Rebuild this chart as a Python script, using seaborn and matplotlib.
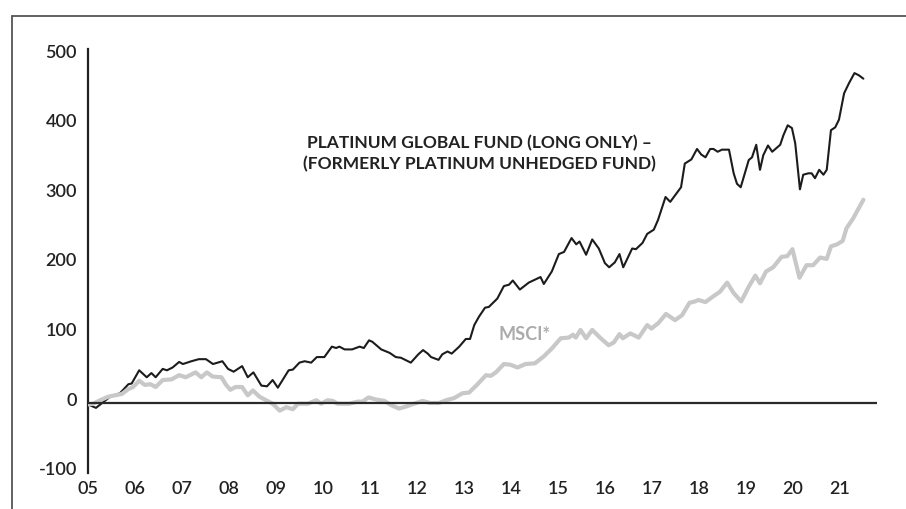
import matplotlib
matplotlib.use("Agg")
import matplotlib.pyplot as plt
import matplotlib.transforms as mtransforms
from matplotlib.lines import Line2D
import seaborn as sns
import pandas as pd

# Platinum Global Fund (long only), cumulative return %
fund_years = [2005.00, 2005.17, 2005.30, 2005.47, 2005.68, 2005.86, 2005.93, 2006.09, 2006.25, 2006.35,
              2006.44, 2006.59, 2006.68, 2006.80, 2006.94, 2007.02, 2007.20, 2007.36, 2007.51, 2007.66,
              2007.86, 2007.98, 2008.10, 2008.28, 2008.40, 2008.52, 2008.69, 2008.81, 2008.93, 2009.04,
              2009.27, 2009.36, 2009.50, 2009.61, 2009.75, 2009.87, 2010.03, 2010.19, 2010.28, 2010.35,
              2010.46, 2010.62, 2010.78, 2010.87, 2010.98, 2011.05, 2011.24, 2011.42, 2011.55, 2011.66,
              2011.87, 2012.03, 2012.13, 2012.23, 2012.30, 2012.46, 2012.54, 2012.65, 2012.74, 2012.90,
              2013.04, 2013.13, 2013.22, 2013.32, 2013.45, 2013.53, 2013.71, 2013.85, 2013.96, 2014.04,
              2014.19, 2014.38, 2014.63, 2014.70, 2014.87, 2015.02, 2015.13, 2015.29, 2015.39, 2015.46,
              2015.60, 2015.73, 2015.87, 2016.00, 2016.09, 2016.21, 2016.31, 2016.39, 2016.58, 2016.66,
              2016.80, 2016.90, 2017.04, 2017.13, 2017.29, 2017.39, 2017.62, 2017.70, 2017.84, 2017.96,
              2018.05, 2018.14, 2018.24, 2018.31, 2018.40, 2018.49, 2018.64, 2018.74, 2018.81, 2018.89,
              2019.06, 2019.13, 2019.22, 2019.30, 2019.37, 2019.47, 2019.56, 2019.73, 2019.80, 2019.89,
              2019.98, 2020.05, 2020.15, 2020.22, 2020.33, 2020.40, 2020.47, 2020.56, 2020.65, 2020.72,
              2020.81, 2020.90, 2020.98, 2021.09, 2021.19, 2021.31, 2021.40, 2021.50]
fund_values = [-2, -7, 0, 9, 14, 27, 28, 47, 37, 43,
               37, 49, 47, 51, 59, 56, 60, 63, 63, 56,
               60, 49, 45, 53, 37, 44, 25, 24, 33, 22,
               47, 48, 58, 60, 58, 66, 66, 81, 79, 81,
               77, 77, 81, 79, 90, 88, 77, 72, 66, 65,
               58, 70, 76, 71, 66, 62, 70, 74, 71, 81,
               92, 92, 112, 124, 137, 138, 150, 168, 170, 176,
               163, 173, 181, 171, 189, 214, 217, 237, 228, 232,
               213, 235, 222, 201, 195, 202, 214, 195, 222, 221,
               230, 243, 249, 263, 296, 289, 310, 344, 350, 365,
               357, 353, 365, 365, 361, 364, 364, 330, 315, 310,
               349, 353, 371, 335, 356, 370, 361, 371, 385, 399,
               395, 373, 307, 328, 330, 330, 323, 335, 328, 335,
               392, 396, 407, 445, 459, 474, 471, 466]

# MSCI AC World index, cumulative return %
msci_years = [2005.00, 2005.11, 2005.26, 2005.43, 2005.57, 2005.72, 2005.86, 2005.96, 2006.09, 2006.21,
              2006.33, 2006.44, 2006.59, 2006.78, 2006.94, 2007.08, 2007.29, 2007.41, 2007.53, 2007.65,
              2007.84, 2007.94, 2008.03, 2008.14, 2008.28, 2008.40, 2008.51, 2008.65, 2008.79, 2008.93,
              2009.08, 2009.22, 2009.36, 2009.47, 2009.68, 2009.86, 2009.96, 2010.10, 2010.21, 2010.31,
              2010.56, 2010.74, 2010.84, 2010.97, 2011.13, 2011.31, 2011.45, 2011.62, 2011.77, 2011.94,
              2012.12, 2012.28, 2012.47, 2012.62, 2012.79, 2012.97, 2013.11, 2013.29, 2013.47, 2013.57,
              2013.68, 2013.85, 2013.99, 2014.14, 2014.31, 2014.51, 2014.70, 2014.88, 2015.06, 2015.23,
              2015.32, 2015.38, 2015.48, 2015.60, 2015.73, 2015.91, 2016.08, 2016.19, 2016.31, 2016.38,
              2016.54, 2016.72, 2016.90, 2016.99, 2017.14, 2017.30, 2017.49, 2017.64, 2017.80, 2017.92,
              2017.99, 2018.14, 2018.28, 2018.45, 2018.60, 2018.74, 2018.90, 2019.06, 2019.20, 2019.30,
              2019.43, 2019.58, 2019.76, 2019.88, 2019.99, 2020.14, 2020.29, 2020.43, 2020.58, 2020.72,
              2020.81, 2020.94, 2021.06, 2021.14, 2021.28, 2021.50]
msci_values = [-2, -1, 4, 9, 11, 13, 20, 23, 32, 26,
               27, 23, 33, 34, 40, 37, 44, 37, 44, 38,
               37, 26, 19, 23, 23, 11, 18, 9, 4, -1,
               -11, -6, -9, -1, -1, 4, -1, 4, 3, -1,
               -1, 2, 2, 8, 5, 3, -3, -8, -5, -1,
               3, 0, 0, 4, 7, 14, 15, 27, 40, 39,
               44, 56, 55, 51, 56, 57, 67, 79, 93, 94,
               98, 94, 105, 93, 105, 93, 83, 87, 99, 93,
               100, 94, 112, 107, 115, 128, 119, 126, 144, 146,
               148, 145, 152, 160, 173, 158, 146, 167, 183, 172,
               189, 195, 210, 211, 221, 180, 198, 198, 209, 207,
               225, 228, 233, 251, 265, 292]

year_ticks = list(range(2005, 2022))
year_labels = ["%02d" % (y % 100) for y in year_ticks]
value_ticks = [-100, 0, 100, 200, 300, 400, 500]

fund_label = "PLATINUM GLOBAL FUND (LONG ONLY) \u2013\n(FORMERLY PLATINUM UNHEDGED FUND)"
msci_label = "MSCI*"

sns.set_style("white")
plt.rcParams["font.family"] = ["Lato", "DejaVu Sans"]
plt.rcParams["axes.unicode_minus"] = False

fund_df = pd.DataFrame({"year": fund_years, "value": fund_values})
msci_df = pd.DataFrame({"year": msci_years, "value": msci_values})

fig = plt.figure(figsize=(9.06, 5.09), dpi=100)
ax = fig.add_axes([0.0971, 0.0715, 0.8709, 0.8322])

sns.lineplot(data=fund_df, x="year", y="value", ax=ax, color="#1c1c1c", linewidth=1.5, zorder=3)
sns.lineplot(data=msci_df, x="year", y="value", ax=ax, color="#c8c8c8", linewidth=3.0, zorder=4)
ax.axhline(0, color="#2a2a2a", linewidth=1.6, zorder=5)

ax.set_xlim(2005, 2021.79)
ax.set_ylim(-100, 508.6)
ax.set_xticks(year_ticks)
ax.set_xticklabels(year_labels)
ax.set_yticks(value_ticks)
ax.set_xlabel("")
ax.set_ylabel("")
ax.tick_params(axis="both", length=0, labelsize=13, colors="#222222")
ax.tick_params(axis="x", pad=6)
ax.tick_params(axis="y", pad=8)
for lab in ax.get_xticklabels() + ax.get_yticklabels():
    lab.set_fontweight("semibold")

# nudge the value labels a little upward, as in the original
shift = mtransforms.ScaledTranslation(0, 0.04, fig.dpi_scale_trans)
for lab in ax.get_yticklabels():
    lab.set_transform(lab.get_transform() + shift)

for side in ["top", "right", "bottom"]:
    ax.spines[side].set_visible(False)
ax.spines["left"].set_color("#222222")
ax.spines["left"].set_linewidth(1.6)

ax.text(2013.34, 358, fund_label, ha="center", va="center", multialignment="center",
        fontsize=12.5, fontweight="bold", color="#222222", linespacing=1.35)
ax.text(2014.28, 98, msci_label, ha="center", va="center", fontsize=13,
        fontweight="bold", color="#ababab")

# outer frame (top and left edges)
fig.add_artist(Line2D([0.0132, 1.0], [0.9695, 0.9695], transform=fig.transFigure,
                      color="#555555", linewidth=1.3))
fig.add_artist(Line2D([0.0132, 0.0132], [0.0, 0.9695], transform=fig.transFigure,
                      color="#555555", linewidth=1.3))

fig.savefig("out.png", dpi=100)
